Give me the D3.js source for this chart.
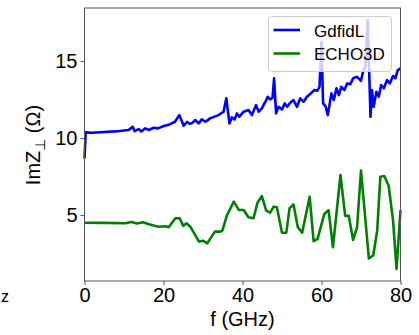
<!DOCTYPE html>
<html><head><meta charset="utf-8">
<script src="https://cdn.jsdelivr.net/npm/d3@7"></script>
<style>
html,body{margin:0;padding:0;background:#fff;}
svg{display:block;font-family:"Liberation Sans",Arial,sans-serif;}
</style></head>
<body>
<svg id="chart" width="419" height="335"></svg>
<script>
const xTicks = [0, 20, 40, 60, 80];
const yTicks = [5, 10, 15];
const seriesNames = ["GdfidL", "ECHO3D"];
const seriesColors = ["#0000ff", "#008000"];

// [frequency (GHz), ImZ (Ohm)]
const gdfidl = [[0,8.68],[0.3,10.37],[1.9,10.34],[7.8,10.43],[11.2,10.52],[12.2,10.73],[12.7,10.45],[13.7,10.58],[14.4,10.43],[15.4,10.63],[16.3,10.52],[17.5,10.67],[18.6,10.63],[20.1,10.78],[21.3,10.86],[22.9,11.06],[24.0,11.49],[24.6,11.12],[25.1,10.8],[26.0,11.05],[26.6,10.92],[27.3,10.98],[28.0,11.17],[28.9,10.95],[29.7,11.21],[30.6,11.06],[31.8,11.28],[33.9,11.49],[35.2,11.71],[35.9,12.58],[36.7,10.95],[37.3,11.34],[38.0,11.21],[38.6,11.6],[39.2,11.39],[40.3,11.71],[41.5,11.82],[42.4,11.49],[43.4,12.14],[44.1,11.71],[44.9,11.93],[45.8,12.36],[46.4,12.68],[47.0,12.51],[47.6,12.62],[48.0,13.88],[48.5,11.6],[49.1,12.03],[50.0,11.86],[50.7,12.25],[51.3,12.03],[52.1,12.29],[52.9,12.47],[53.8,12.03],[54.6,12.58],[55.5,12.36],[56.3,12.68],[57.3,12.9],[58.2,13.12],[58.9,13.07],[59.5,13.33],[60.0,16.25],[60.4,12.25],[61.0,12.08],[61.6,11.49],[62.5,12.9],[63.1,12.47],[63.8,13.23],[64.4,12.79],[65.0,13.33],[65.8,13.12],[66.5,13.55],[67.3,13.5],[68.0,13.88],[69.0,13.98],[70.0,13.72],[70.5,14.3],[71.1,14.63],[71.7,17.66],[72.4,11.38],[72.8,13.12],[73.2,12.03],[73.9,13.0],[74.5,12.68],[75.1,13.44],[75.8,13.23],[76.6,13.77],[77.3,13.55],[78.1,14.03],[78.7,13.88],[79.3,14.42],[80.0,14.53]];

const echo3d = [[0,4.5],[5,4.49],[10.3,4.46],[11.9,4.55],[13.3,4.44],[14.8,4.53],[16.3,4.4],[17.5,4.31],[18.8,4.24],[20.5,4.27],[21.3,4.2],[23,4.79],[24.1,4.79],[25,4.29],[25.8,4.46],[26.8,4.24],[29,3.27],[30,3.33],[31.1,3.16],[33,3.92],[34.4,3.92],[34.9,3.98],[36.1,5.0],[37.8,5.87],[39.1,5.32],[40.3,5.32],[41.5,4.85],[42.8,4.79],[43.8,5.8],[44.9,6.23],[46,5.28],[47,5.15],[47.9,5.54],[48.7,5.5],[50,3.85],[51.1,3.85],[51.9,5.43],[52.9,5.69],[54,4.2],[55.1,3.85],[57,6.19],[58,3.3],[59,3.45],[60.7,5.06],[61.8,5.3],[62.9,2.9],[64.8,7.6],[66,4.94],[66.9,4.94],[68,3.38],[69,4.2],[70,7.88],[72,2.17],[73.1,2.38],[74.1,3.98],[74.9,7.49],[75.9,7.53],[77,6.9],[78.1,4.68],[79,1.5],[80,5.32]];

const svg = d3.select("#chart");
const L = 84.5, R = 400.5, T = 8, B = 281;
const x = d3.scaleLinear().domain([0, 80]).range([L, R]);
const y = d3.scaleLinear().domain([0.71, 18.45]).range([B, T]);

const line = d3.line().x(d => x(d[0])).y(d => y(d[1]));
[gdfidl, echo3d].forEach((data, i) => {
  svg.append("path").datum(data)
    .attr("d", line).attr("fill", "none")
    .attr("stroke", seriesColors[i]).attr("stroke-width", 2.6)
    .attr("stroke-linejoin", "round").attr("stroke-linecap", "butt");
});

// frame
svg.append("rect").attr("x", L).attr("y", T).attr("width", R - L).attr("height", B - T)
  .attr("fill", "none").attr("stroke", "#555").attr("stroke-width", 1);

const xAxis = svg.append("g").attr("transform", `translate(0,${B})`)
  .call(d3.axisBottom(x).tickValues(xTicks).tickSize(4).tickPadding(3).tickFormat(d3.format("d")));
const yAxis = svg.append("g").attr("transform", `translate(${L},0)`)
  .call(d3.axisLeft(y).tickValues(yTicks).tickSize(4).tickPadding(3).tickFormat(d3.format("d")));
[xAxis, yAxis].forEach(g => {
  g.select(".domain").remove();
  g.selectAll(".tick line").attr("stroke", "#555");
  g.selectAll(".tick text").attr("fill", "#000").style("font-size", "20px")
   .style("font-family", "'Liberation Sans', Arial, sans-serif");
});

// axis labels
svg.append("text").attr("x", (L + R) / 2).attr("y", 326).attr("text-anchor", "middle")
  .style("font-size", "20px").attr("fill", "#000").text("f (GHz)");
const yl = svg.append("text").attr("transform", `translate(40,145) rotate(-90)`)
  .attr("text-anchor", "middle").style("font-size", "20px").attr("fill", "#000");
yl.append("tspan").text("ImZ");
yl.append("tspan").attr("dy", 5).style("font-size", "14px").text("\u22A5");
yl.append("tspan").attr("dy", -5).text(" (\u03A9)");

// small fragment at lower left
svg.append("text").attr("x", 1).attr("y", 302).attr("text-anchor", "start")
  .style("font-size", "16px").attr("fill", "#000").text("z");

// legend
const lg = svg.append("g");
lg.append("rect").attr("x", 268.5).attr("y", 16.5).attr("width", 123).attr("height", 55)
  .attr("rx", 3).attr("fill", "#fff").attr("fill-opacity", 0.8)
  .attr("stroke", "#ccc").attr("stroke-width", 1);
const ly = [30, 53.5];
seriesNames.forEach((n, i) => {
  lg.append("line").attr("x1", 273.5).attr("x2", 300).attr("y1", ly[i]).attr("y2", ly[i])
    .attr("stroke", seriesColors[i]).attr("stroke-width", 2.6);
  lg.append("text").attr("x", 314).attr("y", ly[i] + 6.5).style("font-size", "17px")
    .attr("fill", "#000").text(n);
});
</script>
</body></html>
